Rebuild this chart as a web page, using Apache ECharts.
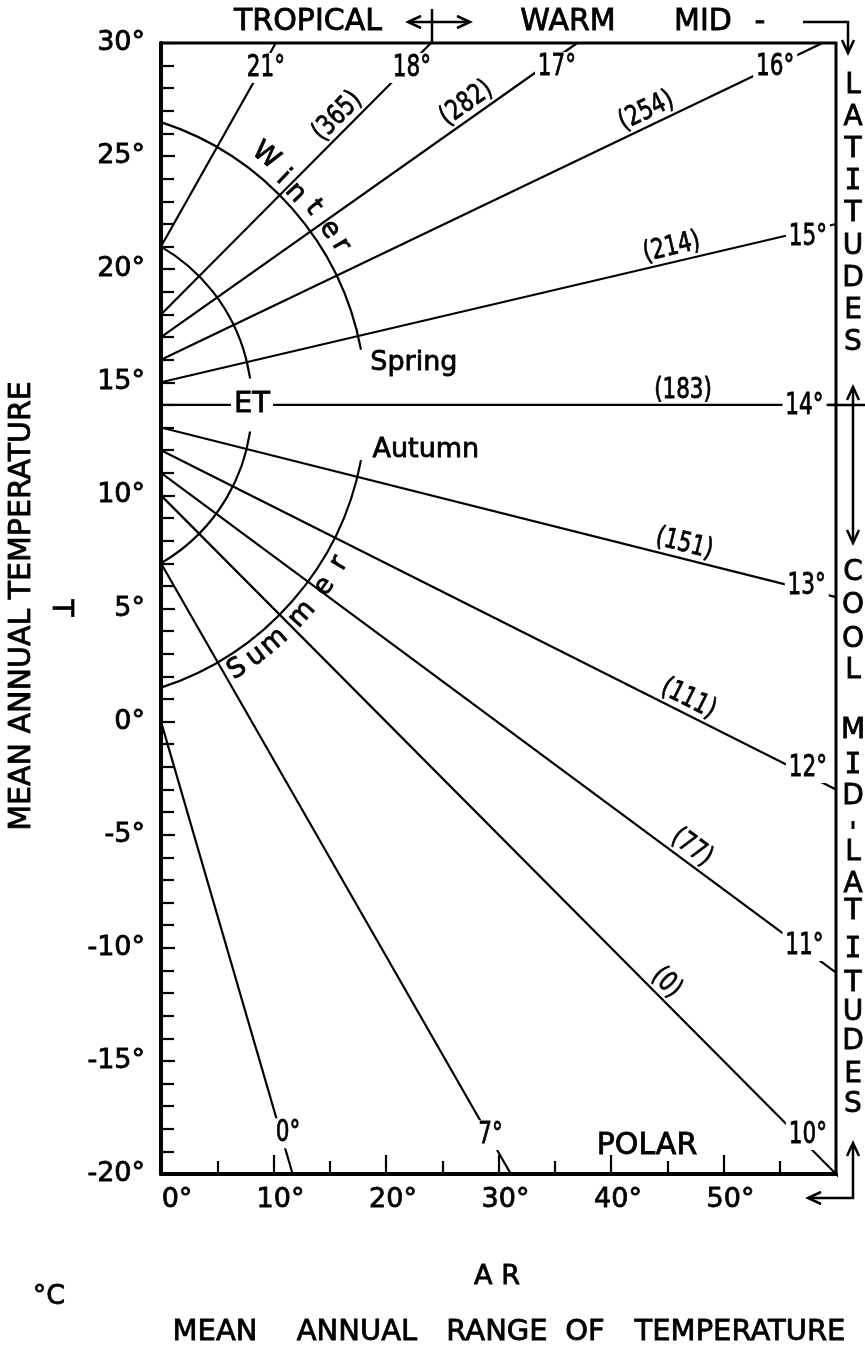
<!DOCTYPE html>
<html>
<head>
<meta charset="utf-8">
<title>Effective temperature nomogram</title>
<script src="https://cdn.jsdelivr.net/npm/echarts@6/dist/echarts.min.js"></script>
<style>
html,body{margin:0;padding:0;background:#fff;}
#chart{width:865px;height:1353px;}
</style>
</head>
<body>
<div id="chart"></div>
<script>
// ---------------- values ----------------
// Effective-temperature (ET) lines: label value, T where the line leaves the T axis (AR = 0),
// and the point (AR, T) where the line ends.
const etValues = [21, 18, 17, 16, 15, 14, 13, 12, 11, 10, 7, 0];
const etStartT = [21, 18, 17, 16, 15, 14, 13, 12, 11, 10, 7, 0];
const etEndAR  = [10.2, 24, 37, 58.8, 60, 60, 60, 60, 60, 62.4, 31.1, 11.7];
const etEndT   = [30, 30, 30, 30, 22.0, 14, 5.5, -3.0, -11.1, -21.2, -20, -20];

// Numbers in brackets written along the ET lines
const bracketLineET = [18, 17, 16, 15, 14, 13, 12, 11, 10];
const bracketValues = [365, 282, 254, 214, 183, 151, 111, 77, 0];

// Season arcs, centred on the point where all ET lines meet
const arcCenter = [-8.2, 14];
const arcStartT = [21, 26.5, 1.5];      // arc meets the T axis (AR = 0) here
const arcEndAR  = [0, 17.9, 17.9];
const arcEndT   = [7, 16.45, 11.55];

// Axes
const arMin = 0, arMax = 60, arLabelStep = 10;
const tMin = -20, tMax = 30, tLabelStep = 5;

// ---------------- layout (positions / styles only) ----------------
const FONT = '"DejaVu Sans", "Liberation Sans", sans-serif';
const INK = 0.8;   // extra stroke that thickens the lettering
const layout = {
  etLabelPos: [[9.33,28.9],[22.3,28.9],[35.2,28.94],[54.6,28.94],[57.5,21.42],[57.2,13.95],
               [57.4,6.0],[57.5,-2.05],[57.2,-9.92],[57.5,-18.28],[29.3,-18.28],[11.3,-18.2]],
  bracketAR: [16.6, 27.9, 43.7, 45.7, 46.4, 46.2, 46.3, 46.4, 44.0],
  bracketOffset: 14.5,
  springPos: [18.6, 15.85],
  autumnPos: [18.8, 12.0],
  polarPos: [43.2, -18.76],
  winterDeg: [-51.7, -46.7, -43.1, -38.9, -33.9, -30.4],
  winterOff: [20, 15, 13, 17, 17, 18],
  summerDeg: [57.5, 53.3, 49.0, 41.9, 35.4, 30.3],
  summerOff: 16
};

const chart = echarts.init(document.getElementById('chart'), null, {renderer: 'canvas'});

const lineSeries = etValues.map((et, i) => ({
  type: 'line',
  name: 'ET ' + et,
  data: [[0, etStartT[i]], [etEndAR[i], etEndT[i]]],
  symbol: 'none',
  clip: false,
  silent: true,
  animation: false,
  lineStyle: {color: '#000', width: 2.2},
  z: 3
}));

const arcSeries = {
  type: 'custom',
  silent: true,
  animation: false,
  z: 3,
  data: arcStartT.map((t, i) => [i, t]),
  renderItem: function (params, api) {
    const i = params.dataIndex;
    const c = api.coord(arcCenter);
    const s = api.coord([0, arcStartT[i]]);
    const e = api.coord([arcEndAR[i], arcEndT[i]]);
    const r = Math.hypot(s[0] - c[0], s[1] - c[1]);
    let a0 = Math.atan2(s[1] - c[1], s[0] - c[0]);
    let a1 = Math.atan2(e[1] - c[1], e[0] - c[0]);
    if (a0 > a1) { const t = a0; a0 = a1; a1 = t; }
    return {
      type: 'arc',
      shape: {cx: c[0], cy: c[1], r: r, startAngle: a0, endAngle: a1, clockwise: true},
      style: {stroke: '#000', fill: 'none', lineWidth: 2.2}
    };
  }
};

function textEl(str, x, y, size, extra, styleExtra) {
  return Object.assign({
    type: 'text', x: x, y: y,
    style: Object.assign({text: str, fontSize: size, fontFamily: FONT, fill: '#000',
      stroke: '#000', lineWidth: INK,
      align: 'center', verticalAlign: 'middle'}, styleExtra || {})
  }, extra || {});
}

const annotationSeries = {
  type: 'custom',
  silent: true,
  animation: false,
  z: 6,
  data: [[0, 0]],
  renderItem: function (params, api) {
    const ch = [];
    // ET value labels at the line ends (white box opens a gap in the line)
    etValues.forEach((et, i) => {
      const p = api.coord(layout.etLabelPos[i]);
      ch.push(textEl(et + '°', p[0], p[1], 30, {scaleX: 0.72},
        {backgroundColor: '#fff', padding: [0, 4, 0, 4]}));
    });
    // bracketed numbers written along the lines
    bracketValues.forEach((v, k) => {
      const j = etValues.indexOf(bracketLineET[k]);
      const p0 = api.coord([0, etStartT[j]]);
      const p1 = api.coord([etEndAR[j], etEndT[j]]);
      let dx = p1[0] - p0[0], dy = p1[1] - p0[1];
      const L = Math.hypot(dx, dy); dx /= L; dy /= L;
      const ar = layout.bracketAR[k];
      const t = etStartT[j] + (etEndT[j] - etStartT[j]) * ar / etEndAR[j];
      const f = api.coord([ar, t]);
      const o = layout.bracketOffset;
      ch.push(textEl('(' + v + ')', f[0] + dy * o, f[1] - dx * o, 27.5,
        {rotation: -Math.atan2(dy, dx), scaleX: 0.78}));
    });
    // ET label on the small arc
    const c = api.coord(arcCenter);
    const s0 = api.coord([0, arcStartT[0]]);
    const rSmall = Math.hypot(s0[0] - c[0], s0[1] - c[1]);
    ch.push(textEl('ET', c[0] + rSmall, c[1], 29, null,
      {backgroundColor: '#fff', padding: [12, 3, 12, 3]}));
    // season words
    const sp = api.coord(layout.springPos);
    ch.push(textEl('Spring', sp[0], sp[1], 27, null, {align: 'left'}));
    const au = api.coord(layout.autumnPos);
    ch.push(textEl('Autumn', au[0], au[1], 27, null, {align: 'left'}));
    const po = api.coord(layout.polarPos);
    ch.push(textEl('POLAR', po[0], po[1], 30));
    // letters along the large arc
    const s1 = api.coord([0, arcStartT[1]]);
    const rBig = Math.hypot(s1[0] - c[0], s1[1] - c[1]);
    'Winter'.split('').forEach((ltr, k) => {
      const th = layout.winterDeg[k] * Math.PI / 180;
      const r = rBig + layout.winterOff[k];
      ch.push(textEl(ltr, c[0] + r * Math.cos(th), c[1] + r * Math.sin(th), 27,
        {rotation: -(Math.PI / 2 + th)}));
    });
    'Summer'.split('').forEach((ltr, k) => {
      const th = layout.summerDeg[k] * Math.PI / 180;
      const r = rBig + layout.summerOff;
      ch.push(textEl(ltr, c[0] + r * Math.cos(th), c[1] + r * Math.sin(th), 27,
        {rotation: Math.PI / 2 - th}));
    });
    return {type: 'group', children: ch};
  }
};

// ---------------- decorations outside the frame ----------------
const G = [];
function gText(str, x, y, size, extra, family) {
  G.push({type: 'text', x: x, y: y, z: 10, ...(extra || {}),
    style: {text: str, fontSize: size, fontFamily: family || FONT, fill: '#000',
      stroke: '#000', lineWidth: INK, align: 'center', verticalAlign: 'middle'}});
}
function gLine(points, w) {
  G.push({type: 'polyline', z: 10, shape: {points: points},
    style: {stroke: '#000', lineWidth: w || 2.5, fill: 'none'}});
}
function gHead(tx, ty, dx, dy) {
  const L = 13, W = 6;
  const bx = tx - dx * L, by = ty - dy * L;
  gLine([[bx - dy * W, by + dx * W], [tx, ty], [bx + dy * W, by - dx * W]], 2.5);
}
gText('TROPICAL', 308, 22, 30);
gLine([[409, 22], [469, 22]]); gHead(408, 22, -1, 0); gHead(470, 22, 1, 0);
gLine([[432, 9], [432, 43]]);
gText('WARM', 568, 22, 30);
gText('MID', 703, 22, 30);
gText('-', 760, 22, 30);
gLine([[803, 22], [848, 22], [848, 52]]); gHead(848, 53, 0, 1);

function column(str, ys, x) {
  str.split('').forEach((ch, k) => {
    if (ch === '.') { gLine([[x, ys[k] - 4], [x, ys[k] + 4]], 3); return; }
    gText(ch, x, ys[k], 28, null, ch === 'I' ? '"DejaVu Sans Mono", monospace' : FONT);
  });
}
column('LATITUDES', [86, 118, 150, 182, 214, 247, 279, 311, 343], 853);
gLine([[853, 388], [853, 542]]); gHead(853, 387, 0, -1); gHead(853, 543, 0, 1);
gLine([[828, 405], [865, 405]]);
column('COOL', [573, 606, 640, 671], 853);
column('MID.LATITUDES', [731, 766, 797, 825, 853, 885, 912, 950, 984, 1013, 1042, 1075, 1105], 853);
gLine([[853, 1144], [853, 1198], [809, 1198]]); gHead(853, 1143, 0, -1); gHead(808, 1198, -1, 0);

gText('MEAN ANNUAL TEMPERATURE', 22, 606, 30, {rotation: Math.PI / 2});
gText('T', 60, 608, 28, {rotation: -Math.PI / 2});
gText('°C', 49, 1297, 27);
gText('A R', 497, 1277, 27);
[['MEAN', 215], ['ANNUAL', 357], ['RANGE', 497], ['OF', 585], ['TEMPERATURE', 740]]
  .forEach(w => gText(w[0], w[1], 1332, 29));

const labelInk = {textBorderColor: '#000', textBorderWidth: INK};

const option = {
  backgroundColor: '#fff',
  animation: false,
  grid: {
    left: 161, right: 29, top: 43, bottom: 179,
    show: true, borderColor: '#000', borderWidth: 3, backgroundColor: 'transparent',
    containLabel: false, outerBoundsMode: 'none'
  },
  xAxis: {
    type: 'value', min: arMin, max: arMax, interval: arLabelStep,
    axisLine: {show: true, onZero: false, lineStyle: {color: '#000', width: 4}},
    axisTick: {show: true, inside: true, length: 19, lineStyle: {color: '#000', width: 2.2}},
    minorTick: {show: true, splitNumber: 2, length: 13, lineStyle: {color: '#000', width: 2.2}},
    splitLine: {show: false},
    axisLabel: Object.assign({
      color: '#000', fontSize: 27, fontFamily: FONT, margin: 12, padding: [0, 0, 0, 14],
      formatter: v => (v >= arMax ? '' : (v === arMin ? '{first|' + v + '°}' : v + '°')),
      rich: {first: Object.assign({color: '#000', fontSize: 27, fontFamily: FONT,
        padding: [0, 0, 0, 18]}, labelInk)}
    }, labelInk)
  },
  yAxis: {
    type: 'value', min: tMin, max: tMax, interval: tLabelStep,
    axisLine: {show: true, onZero: false, lineStyle: {color: '#000', width: 4}},
    axisTick: {show: true, inside: true, length: 14, lineStyle: {color: '#000', width: 2.2}},
    minorTick: {show: true, splitNumber: 5, length: 13, lineStyle: {color: '#000', width: 2.2}},
    splitLine: {show: false},
    axisLabel: Object.assign({
      color: '#000', fontSize: 27, fontFamily: FONT, margin: 16, padding: [0, 0, 22, 0],
      formatter: v => v + '°'
    }, labelInk)
  },
  graphic: G,
  series: lineSeries.concat([arcSeries, annotationSeries])
};
chart.setOption(option);
</script>
</body>
</html>
